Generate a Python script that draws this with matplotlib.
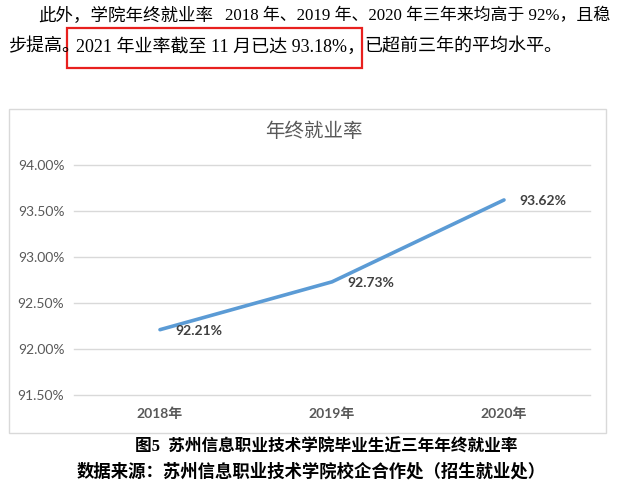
import matplotlib
matplotlib.use("Agg")
import matplotlib.pyplot as plt
from matplotlib.patches import Rectangle

years = ['2018年', '2019年', '2020年']
rates = [92.21, 92.73, 93.62]
yticks = [91.5, 92.0, 92.5, 93.0, 93.5, 94.0]

chart_title = '年终就业率'
para_line1_a = '此外，学院年终就业率'
para_line1_b = '2018 年、2019 年、2020 年三年来均高于 92%，且稳'
para_line2_a = '步提高。'
para_line2_b = '2021 年业率截至 11 月已达 93.18%，'
para_line2_c = '已超前三年的平均水平。'
caption1 = '图5  苏州信息职业技术学院毕业生近三年年终就业率'
caption2 = '数据来源：苏州信息职业技术学院校企合作处（招生就业处）'

W, H = 628, 499
serif = ['Liberation Serif', 'Noto Sans CJK SC']
sans = ['Lato', 'Noto Sans CJK SC']
grey = '#595959'

fig = plt.figure(figsize=(W / 100, H / 100), dpi=100)

def fx(px):
    return px / W

def fy(py):
    return 1 - py / H

# paragraph text above the chart
fig.text(fx(38), fy(16), para_line1_a, family=serif, fontsize=12.6, va='center', ha='left')
fig.text(fx(610), fy(16), para_line1_b, family=serif, fontsize=12.2, va='center', ha='right')
fig.text(fx(8), fy(47), para_line2_a, family=serif, fontsize=13, va='center', ha='left')
fig.text(fx(76), fy(47), para_line2_b, family=serif, fontsize=13, va='center', ha='left')
fig.text(fx(364), fy(47), para_line2_c, family=serif, fontsize=13, va='center', ha='left')
fig.add_artist(Rectangle((fx(67), fy(68)), fx(362 - 67), (68 - 28) / H,
                         transform=fig.transFigure, fill=False, ec='#E8201E', lw=1.6))

# chart frame
fig.add_artist(Rectangle((fx(9), fy(433)), fx(606 - 9), (433 - 109) / H,
                         transform=fig.transFigure, fill=False, ec='#D9D9D9', lw=1.0))
fig.text(fx(314), fy(131), chart_title, family=sans, fontsize=14, color=grey,
         ha='center', va='center')

ax = fig.add_axes([fx(74), fy(395), fx(590 - 74), (395 - 165) / H])
x = list(range(len(years)))
ax.plot(x, rates, color='#5B9BD5', lw=2.6, solid_capstyle='round')
for xi, v in zip(x, rates):
    ax.annotate(f'{v:.2f}%', (xi, v), xytext=(11, -1), textcoords='offset points',
                ha='left', va='center', fontsize=10, fontweight='bold',
                color='#404040', family=sans)

ax.set_xlim(-0.5, 2.5)
ax.set_ylim(yticks[0], yticks[-1])
ax.set_yticks(yticks)
ax.set_yticklabels([f'{t:.2f}%' for t in yticks], family=sans, fontsize=10, color=grey)
ax.set_xticks(x)
ax.set_xticklabels(years, family=sans, fontsize=10, fontweight='bold', color=grey)
ax.tick_params(length=0)
ax.tick_params(axis='y', pad=7)
ax.tick_params(axis='x', pad=9)
for s in ax.spines.values():
    s.set_visible(False)
ax.yaxis.grid(True, color='#D9D9D9', lw=1.0)
for gl in ax.get_ygridlines():
    gl.set_clip_on(False)
ax.set_axisbelow(True)

# caption
fig.text(fx(326), fy(447), caption1, family=serif, fontsize=12, fontweight='bold',
         ha='center', va='center')
fig.text(fx(311), fy(472), caption2, family=serif, fontsize=12.5, fontweight='bold',
         ha='center', va='center')

fig.savefig('out.png', dpi=100)
